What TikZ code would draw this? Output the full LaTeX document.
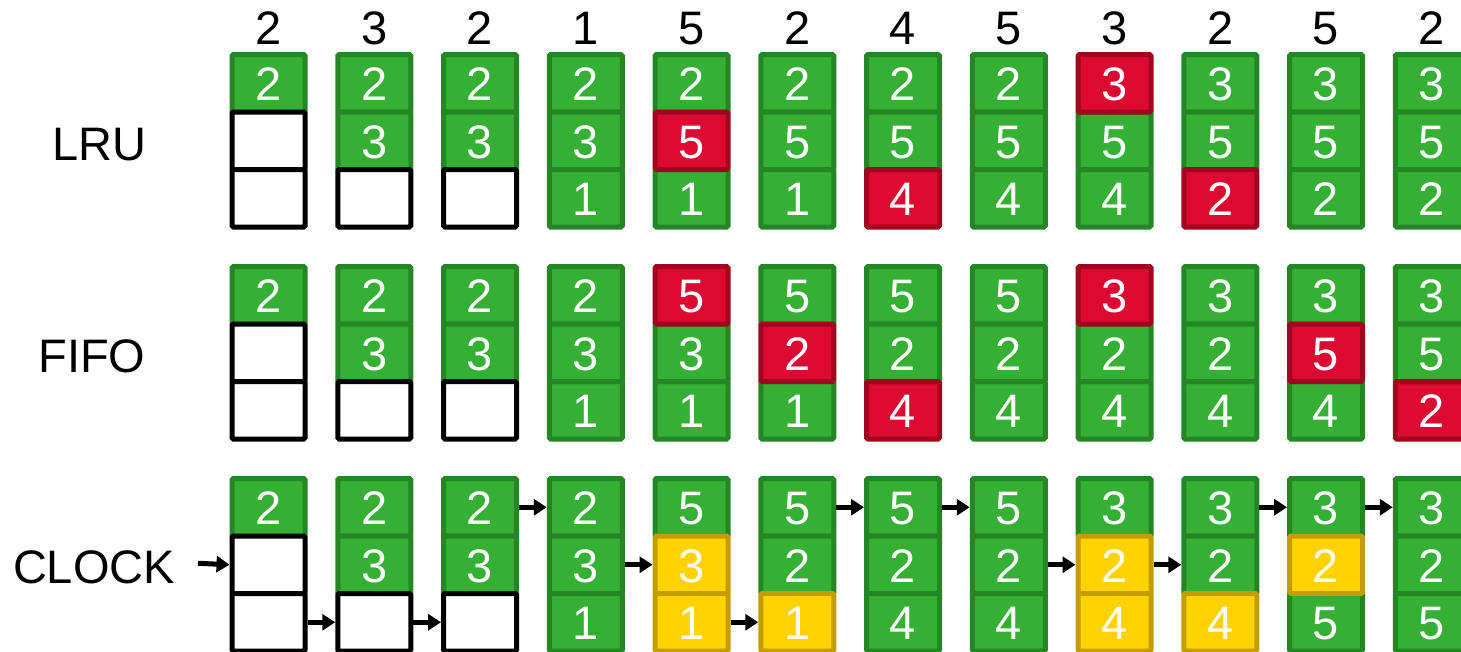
\documentclass[tikz,border=0pt]{standalone}
\usepackage{fontspec}
\setmainfont{Liberation Sans}
\usetikzlibrary{arrows.meta}
\definecolor{cg}{RGB}{53,176,53}
\definecolor{cgd}{RGB}{36,134,36}
\definecolor{cr}{RGB}{220,10,50}
\definecolor{crd}{RGB}{160,6,32}
\definecolor{cy}{RGB}{255,210,0}
\definecolor{cyd}{RGB}{196,158,0}
\pgfdeclarelayer{bg}
\pgfdeclarelayer{Lg}
\pgfdeclarelayer{Le}
\pgfdeclarelayer{Lr}
\pgfdeclarelayer{Ly}
\pgfsetlayers{bg,Lg,Le,Lr,Ly,main}
\newcommand\bigfont{\fontsize{47}{56}\selectfont}
\newcommand\mycell[6]{%
  \begin{pgfonlayer}{L#5}
    \node[cell#5] (#1-#2-#3) at ({268.5+105.75*(#2-1)}, {#4+2.5+57.5*(#3-0.5)}) {#6};
  \end{pgfonlayer}}
\newcommand\mycolm[9]{\mycell{#1}{#2}{1}{#3}{#4}{#5}\mycell{#1}{#2}{2}{#3}{#6}{#7}\mycell{#1}{#2}{3}{#3}{#8}{#9}}
\begin{document}
\begin{tikzpicture}[x=1pt,y=-1pt,
  cellbase/.style={rectangle, minimum width=73pt, minimum height=57.5pt, line width=5pt,
    rounded corners=1.5pt, inner sep=0pt, text=white, font=\bigfont, text height=35pt, text depth=0pt},
  cellg/.style={cellbase, fill=cg, draw=cgd},
  cellr/.style={cellbase, fill=cr, draw=crd},
  celly/.style={cellbase, fill=cy, draw=cyd},
  celle/.style={cellbase, fill=white, draw=black},
  hdr/.style={anchor=base, inner sep=0pt, font=\bigfont},
  lbl/.style={anchor=base, inner sep=0pt, font=\bigfont},
  ptr/.style={line width=5pt, -{Triangle[length=13pt,width=16pt]}}]
\useasboundingbox (0,0) rectangle (1461,651);
\begin{pgfonlayer}{bg}
\fill[white] (0,0) rectangle (1461,651);
\end{pgfonlayer}
% header
\foreach \v [count=\i] in {2,3,2,1,5,2,4,5,3,2,5,2}
  \node[hdr] (h\i) at ({268.5+105.75*(\i-1)},44) {\v};
% labels
\node[lbl] (lru) at (99.5,160) {LRU};
\node[lbl] (fifo) at (92,372) {FIFO};
\node[lbl] (clock) at (94,583) {CLOCK};
% LRU
\mycolm{L}{1}{52}{g}{2}{e}{}{e}{}
\mycolm{L}{2}{52}{g}{2}{g}{3}{e}{}
\mycolm{L}{3}{52}{g}{2}{g}{3}{e}{}
\mycolm{L}{4}{52}{g}{2}{g}{3}{g}{1}
\mycolm{L}{5}{52}{g}{2}{r}{5}{g}{1}
\mycolm{L}{6}{52}{g}{2}{g}{5}{g}{1}
\mycolm{L}{7}{52}{g}{2}{g}{5}{r}{4}
\mycolm{L}{8}{52}{g}{2}{g}{5}{g}{4}
\mycolm{L}{9}{52}{r}{3}{g}{5}{g}{4}
\mycolm{L}{10}{52}{g}{3}{g}{5}{r}{2}
\mycolm{L}{11}{52}{g}{3}{g}{5}{g}{2}
\mycolm{L}{12}{52}{g}{3}{g}{5}{g}{2}
% FIFO
\mycolm{F}{1}{264}{g}{2}{e}{}{e}{}
\mycolm{F}{2}{264}{g}{2}{g}{3}{e}{}
\mycolm{F}{3}{264}{g}{2}{g}{3}{e}{}
\mycolm{F}{4}{264}{g}{2}{g}{3}{g}{1}
\mycolm{F}{5}{264}{r}{5}{g}{3}{g}{1}
\mycolm{F}{6}{264}{g}{5}{r}{2}{g}{1}
\mycolm{F}{7}{264}{g}{5}{g}{2}{r}{4}
\mycolm{F}{8}{264}{g}{5}{g}{2}{g}{4}
\mycolm{F}{9}{264}{r}{3}{g}{2}{g}{4}
\mycolm{F}{10}{264}{g}{3}{g}{2}{g}{4}
\mycolm{F}{11}{264}{g}{3}{r}{5}{g}{4}
\mycolm{F}{12}{264}{g}{3}{g}{5}{r}{2}
% CLOCK
\mycolm{C}{1}{476}{g}{2}{e}{}{e}{}
\mycolm{C}{2}{476}{g}{2}{g}{3}{e}{}
\mycolm{C}{3}{476}{g}{2}{g}{3}{e}{}
\mycolm{C}{4}{476}{g}{2}{g}{3}{g}{1}
\mycolm{C}{5}{476}{g}{5}{y}{3}{y}{1}
\mycolm{C}{6}{476}{g}{5}{g}{2}{y}{1}
\mycolm{C}{7}{476}{g}{5}{g}{2}{g}{4}
\mycolm{C}{8}{476}{g}{5}{g}{2}{g}{4}
\mycolm{C}{9}{476}{g}{3}{y}{2}{y}{4}
\mycolm{C}{10}{476}{g}{3}{g}{2}{y}{4}
\mycolm{C}{11}{476}{g}{3}{y}{2}{g}{5}
\mycolm{C}{12}{476}{g}{3}{g}{2}{g}{5}
% clock pointer arrows
\coordinate (cstart) at (198,563.25);
\draw[ptr] (cstart) -- (C-1-2.west);
\draw[ptr] (C-1-3.east) -- (C-2-3.west);
\draw[ptr] (C-2-3.east) -- (C-3-3.west);
\draw[ptr] (C-3-1.east) -- (C-4-1.west);
\draw[ptr] (C-4-2.east) -- (C-5-2.west);
\draw[ptr] (C-5-3.east) -- (C-6-3.west);
\draw[ptr] (C-6-1.east) -- (C-7-1.west);
\draw[ptr] (C-7-1.east) -- (C-8-1.west);
\draw[ptr] (C-8-2.east) -- (C-9-2.west);
\draw[ptr] (C-9-2.east) -- (C-10-2.west);
\draw[ptr] (C-10-1.east) -- (C-11-1.west);
\draw[ptr] (C-11-1.east) -- (C-12-1.west);
\end{tikzpicture}
\end{document}
